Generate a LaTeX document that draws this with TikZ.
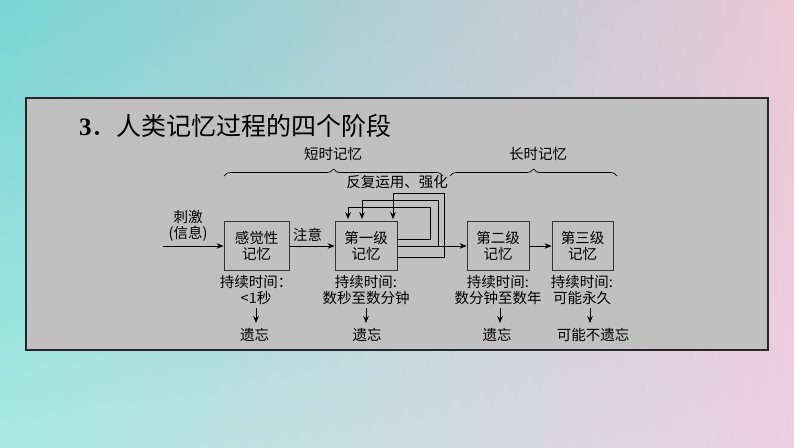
\documentclass[tikz,border=0pt]{standalone}
\usepackage{fontspec}
\setmainfont{Liberation Serif}
\newfontfamily\cjk{Noto Sans CJK SC}
\usetikzlibrary{arrows.meta,decorations.pathreplacing,calc,shadings}
\definecolor{panelgray}{RGB}{192,192,192}
\definecolor{bgUL}{RGB}{120,212,212}
\definecolor{bgUR}{RGB}{236,200,212}
\definecolor{bgLL}{RGB}{168,234,226}
\definecolor{bgLR}{RGB}{238,206,226}
\tikzset{
  memobox/.style={draw=black!80, line width=0.8pt, minimum height=49pt, align=center, inner sep=0pt, font=\cjk\fontsize{14.5}{16}\selectfont},
  lbl/.style={align=center, inner sep=0pt, font=\cjk\fontsize{14.5}{16}\selectfont},
  arr/.style={draw=black, line width=0.8pt, -{Stealth[length=7pt,width=5.5pt]}},
  brc/.style={draw=black, line width=0.7pt, decorate, decoration={brace, amplitude=7pt}}
}
\begin{document}
\begin{tikzpicture}[x=1pt, y=-1pt]
\useasboundingbox (0,0) rectangle (794,447);
\shade[upper left=bgUL, upper right=bgUR, lower left=bgLL, lower right=bgLR] (0,0) rectangle (794,447);
\draw[fill=panelgray, draw=black!85, line width=1.2pt] (26,98) rectangle (768,350);

% title
\node[anchor=west, inner sep=0pt] (title) at (79,126) {\fontsize{25}{28}\selectfont\bfseries 3{\cjk\mdseries ．人类记忆过程的四个阶段}};

% braces
\coordinate (s1) at (224,176);
\coordinate (s2) at (443,176);
\coordinate (l1) at (450,176);
\coordinate (l2) at (617,176);
\draw[brc] (s1) -- (s2);
\draw[brc] (l1) -- (l2);
\node[lbl] (short) at (333,154) {短时记忆};
\node[lbl] (long) at (538,154) {长时记忆};
\node[lbl] (rep) at (397,182) {反复运用、强化};

% boxes
\node[memobox, minimum width=65pt] (b1) at (256.5,246) {感觉性\\记忆};
\node[memobox, minimum width=62pt] (b2) at (366,246) {第一级\\记忆};
\node[memobox, minimum width=62pt] (b3) at (498,246) {第二级\\记忆};
\node[memobox, minimum width=61pt] (b4) at (582.5,246) {第三级\\记忆};

% input
\node[lbl] (stim) at (188,226) {刺激\\(信息)};
\coordinate (in) at (163,246);
\draw[arr] (in) -- (b1.west);
\draw[arr] (b1.east) -- (b2.west);
\node[lbl] (att) at (307.5,235) {注意};
\draw[arr] (b2.east) -- (b3.west);
\draw[arr] (b3.east) -- (b4.west);

% rehearsal loops
\draw[arr, shorten >=2pt] ([yshift=7pt]b2.east) -| (430,207) -| ([xshift=-18pt]b2.north);
\draw[arr, shorten >=2pt] (b2.east) -| (438,200) -| ([xshift=-4pt]b2.north);
\draw[arr, shorten >=2pt] ([yshift=-11pt]b2.east) -| (444,193) -| ([xshift=27pt]b2.north);

% durations
\node[lbl] (d1) at (256,290) {持续时间：\\<1{\cjk 秒}};
\node[lbl] (d2) at (366,290) {持续时间:\\数秒至数分钟};
\node[lbl] (d3) at (498,290) {持续时间:\\数分钟至数年};
\node[lbl] (d4) at (582,290) {持续时间:\\可能永久};

% forgetting
\node[lbl] (f1) at (254.5,335) {遗忘};
\node[lbl] (f2) at (367,335) {遗忘};
\node[lbl] (f3) at (497,335) {遗忘};
\node[lbl] (f4) at (593,335) {可能不遗忘};

\coordinate (a1) at (256,308);
\coordinate (a2) at (366,308);
\coordinate (a3) at (500,308);
\coordinate (a4) at (590,308);
\draw[arr] (a1) -- ++(0,15);
\draw[arr] (a2) -- ++(0,15);
\draw[arr] (a3) -- ++(0,15);
\draw[arr] (a4) -- ++(0,15);
\end{tikzpicture}
\end{document}
